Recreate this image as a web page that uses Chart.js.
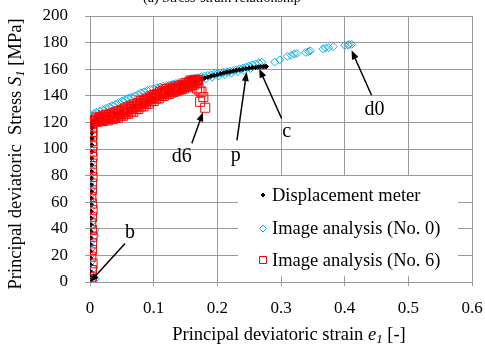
<!DOCTYPE html>
<html>
<head>
<meta charset="utf-8">
<script src="https://cdn.jsdelivr.net/npm/chart.js@4.4.1/dist/chart.umd.min.js"></script>
<style>
  html, body { margin: 0; padding: 0; background: #fff; }
  #wrap { width: 485px; height: 347px; }
</style>
</head>
<body>
<div id="wrap"><canvas id="grafico" width="485" height="347"></canvas></div>
<script>
// ---- data ----
const xTicks = [0, 0.1, 0.2, 0.3, 0.4, 0.5, 0.6];
const yTicks = [0, 20, 40, 60, 80, 100, 120, 140, 160, 180, 200];

const seriesNames = ['Displacement meter', 'Image analysis (No. 0)', 'Image analysis (No. 6)'];

// displacement meter
const dispStrain = [0, 0.0003, 0.0005, 0.0008, 0.001, 0.001, 0.0012, 0.0013, 0.0015, 0.0016, 0.0017, 0.0018, 0.002, 0.002,
  0.0021, 0.0022, 0.0023, 0.0024, 0.0025, 0.0026, 0.0027, 0.0028, 0.003, 0.0032, 0.0035, 0.004, 0.006,
  0.01, 0.02, 0.03, 0.04, 0.05, 0.06, 0.07, 0.08, 0.09, 0.10, 0.11, 0.12, 0.13, 0.14, 0.15, 0.16, 0.165, 0.17,
  0.175, 0.18, 0.185, 0.19, 0.195, 0.2, 0.205, 0.21, 0.215, 0.22, 0.225, 0.23, 0.235, 0.24, 0.245, 0.25,
  0.255, 0.26, 0.264, 0.268, 0.272, 0.275, 0.277];
const dispStress = [0, 4, 8, 13, 18, 23, 28, 33, 38, 43, 48, 53, 58, 63,
  68, 73, 78, 83, 88, 93, 98, 103, 108, 112, 116, 119, 121,
  122, 123.5, 125, 126.5, 128, 130, 132, 134, 136, 138, 140, 142, 144, 145.5, 147, 149, 150.5, 151.5,
  152.5, 153.3, 154, 154.8, 155.4, 156, 156.6, 157.2, 157.7, 158.2, 158.7, 159.2, 159.6, 160, 160.4, 160.8,
  161.1, 161.4, 161.6, 161.8, 161.9, 162, 162];

// image analysis No. 0
const img0Strain = [0.008, 0.003, 0.005, 0.002, 0.001, 0.002, 0.001, 0.008, 0.008, 0.005, 0.002, 0.001, 0.002, 0.001,
  0.002, 0.001, 0, 0.001, 0.002, 0, 0.001, -0.002, 0.002, 0, 0.003, 0.001, 0.002, 0.004,
  0.006, 0.01, 0.015, 0.02, 0.025, 0.03, 0.035, 0.04, 0.045, 0.05, 0.055, 0.06, 0.065, 0.07, 0.075, 0.08,
  0.085, 0.09, 0.095, 0.1, 0.105, 0.11, 0.115, 0.12, 0.125, 0.13, 0.135, 0.14, 0.145, 0.15, 0.155, 0.16,
  0.165, 0.17, 0.175, 0.18, 0.185, 0.19, 0.195, 0.2, 0.205, 0.21, 0.215, 0.22, 0.225, 0.23, 0.235, 0.24,
  0.245, 0.25, 0.255, 0.26, 0.265, 0.27,
  0.172, 0.182, 0.192, 0.202, 0.212, 0.222, 0.232, 0.242, 0.252,
  0.29, 0.298, 0.31, 0.316, 0.321, 0.325, 0.339, 0.343, 0.346, 0.366, 0.37, 0.375, 0.382, 0.4, 0.405, 0.407, 0.411];
const img0Stress = [2, 6, 10, 15, 20, 25, 30, 35, 39, 46, 50, 55, 60, 65,
  70, 75, 80, 85, 90, 95, 100, 106, 108, 112, 116, 120, 123, 125,
  126.5, 127.5, 128.5, 129.5, 130.5, 131.5, 132.5, 133.5, 134.8, 136, 137, 138.2, 139, 140, 141, 142.3,
  143, 144, 144.8, 145.5, 146, 146.6, 147.2, 147.8, 148.3, 148.8, 149.3, 150, 150.6, 151.2, 152, 152.7,
  153.2, 153.8, 154.3, 154.8, 155.3, 155.8, 156.2, 156.7, 157.1, 157.6, 158, 158.5, 159, 159.6, 160.2, 160.8,
  161.5, 162.3, 163.2, 164, 164.8, 165.3,
  151.5, 152.8, 154, 155, 156, 157, 158, 159, 160.5,
  165.4, 167, 169.7, 170.5, 171.5, 171.8, 172.6, 173.2, 173.8, 175.3, 176, 176.2, 177, 178, 178.3, 178.5, 178.7];

// image analysis No. 6
const img6Strain = [0.002, 0.003, 0.003, 0.004, 0.002, 0.003, 0.003, 0.004, 0.003, 0.002, 0.003, 0.004, 0.003, 0.002,
  0.003, 0.003, 0.004, 0.003, 0.003, 0.004, 0.003, 0.004, 0.003, 0.004, 0.003, 0.004, 0.004, 0.005,
  0.006, 0.01, 0.014, 0.018, 0.022, 0.026, 0.03, 0.034, 0.038, 0.042, 0.046, 0.05, 0.054, 0.058, 0.062, 0.066,
  0.07, 0.074, 0.078, 0.082, 0.086, 0.09, 0.094, 0.098, 0.102, 0.106, 0.11, 0.114, 0.118, 0.122, 0.126, 0.13,
  0.134, 0.138, 0.142, 0.146, 0.15, 0.154, 0.158, 0.162, 0.166, 0.17,
  0.012, 0.02, 0.028, 0.036, 0.044, 0.052, 0.06, 0.068, 0.076, 0.084, 0.092, 0.1, 0.108, 0.116, 0.124, 0.132,
  0.14, 0.148, 0.156, 0.164,
  0.015, 0.03, 0.045, 0.06, 0.075, 0.09, 0.105, 0.12, 0.135, 0.15, 0.158, 0.165, 0.17,
  0.008, 0.016, 0.024, 0.032, 0.04, 0.048, 0.056, 0.064, 0.072, 0.08, 0.088, 0.096, 0.104, 0.112, 0.12, 0.128,
  0.136, 0.144, 0.152, 0.16, 0.168,
  0.01, 0.02, 0.025, 0.035, 0.04, 0.05, 0.055, 0.065, 0.07, 0.08, 0.085, 0.095, 0.1, 0.11, 0.115, 0.125,
  0.13, 0.14, 0.145, 0.155, 0.16, 0.163,
  0.168, 0.172, 0.175, 0.178, 0.173, 0.181];
const img6Stress = [0, 4, 9, 14, 19, 24, 29, 34, 39, 44, 49, 54, 59, 64,
  69, 74, 79, 84, 89, 94, 98, 102, 106, 110, 113, 116, 119, 121,
  121.5, 122, 122.5, 122, 123, 123.5, 124, 124.5, 125, 126, 126.5, 127.5, 128, 129, 130, 130.5,
  131.5, 132.5, 133.5, 134.5, 135.5, 136.5, 137.5, 138.5, 139.5, 140.5, 141.5, 142, 143, 143.5, 144, 144.5,
  145, 145.5, 146, 146.5, 147.5, 148.5, 149.5, 150.5, 151, 151.5,
  120.5, 121, 121.5, 122.5, 123.5, 125, 126.5, 128, 130, 132, 134, 136, 138, 140, 141.5, 143,
  144.5, 145.5, 147, 148.5,
  124, 126, 128.5, 131.5, 134.5, 138, 141.5, 145, 147, 149.5, 151.5, 152, 152,
  120.8, 121.5, 122.2, 123, 124, 125.2, 126.5, 128.2, 130, 132, 134, 136, 138, 139.8, 141.2, 142.5,
  143.8, 145, 146.5, 148, 149.5,
  123.5, 125, 125.5, 126.8, 127.5, 129.5, 130.5, 132.5, 133.5, 136, 137, 139.5, 140.5, 143, 143.8, 145.5,
  146.2, 147.5, 148.2, 150, 150.8, 151.5,
  145.5, 144, 143, 139, 135.5, 131];

// call-outs: label point and arrow, in data units
const noteText = ['b', 'd6', 'p', 'c', 'd0'];
const noteStrain = [0.063, 0.144, 0.229, 0.309, 0.447];
const noteStress = [37, 94.5, 95.3, 113.3, 129.8];
const arrowFromStrain = [0.055, 0.160, 0.2308, 0.301, 0.4422];
const arrowFromStress = [29, 104.3, 106.5, 122.9, 140.4];
const arrowToStrain = [0, 0.1774, 0.246, 0.2658, 0.4108];
const arrowToStress = [0, 127.6, 157.9, 160.4, 174.2];

function pares(xs, ys) {
  return xs.map((x, i) => ({ x: x, y: ys[i] }));
}

const SERIF = '"Liberation Serif", "Times New Roman", serif';

function textoMisto(ctx, partes, x, y) {
  // draws pieces of text with different fonts, centred at x
  let total = 0;
  partes.forEach(p => { ctx.font = p.f; total += ctx.measureText(p.t).width; });
  let cx = x - total / 2;
  ctx.textAlign = 'left';
  ctx.textBaseline = 'alphabetic';
  partes.forEach(p => {
    ctx.font = p.f;
    ctx.fillText(p.t, cx, y + (p.dy || 0));
    cx += ctx.measureText(p.t).width;
  });
}

function seta(ctx, x1, y1, x2, y2) {
  const ang = Math.atan2(y2 - y1, x2 - x1);
  const len = 9, w = 3.5;
  ctx.beginPath();
  ctx.moveTo(x1, y1);
  ctx.lineTo(x2 - (len - 2) * Math.cos(ang), y2 - (len - 2) * Math.sin(ang));
  ctx.stroke();
  ctx.beginPath();
  ctx.moveTo(x2, y2);
  ctx.lineTo(x2 - len * Math.cos(ang) + w * Math.sin(ang), y2 - len * Math.sin(ang) - w * Math.cos(ang));
  ctx.lineTo(x2 - len * Math.cos(ang) - w * Math.sin(ang), y2 - len * Math.sin(ang) + w * Math.cos(ang));
  ctx.closePath();
  ctx.fill();
}

const extras = {
  id: 'extras',
  afterDatasetsDraw(chart) {
    const ctx = chart.ctx;
    const sx = chart.scales.x, sy = chart.scales.y;
    ctx.save();
    ctx.fillStyle = '#000';
    ctx.strokeStyle = '#000';
    ctx.lineWidth = 1.5;

    // call-outs
    noteText.forEach((t, i) => {
      seta(ctx, sx.getPixelForValue(arrowFromStrain[i]), sy.getPixelForValue(arrowFromStress[i]),
        sx.getPixelForValue(arrowToStrain[i]), sy.getPixelForValue(arrowToStress[i]));
      ctx.font = '20px ' + SERIF;
      ctx.textAlign = 'center';
      ctx.textBaseline = 'middle';
      ctx.fillText(t, sx.getPixelForValue(noteStrain[i]), sy.getPixelForValue(noteStress[i]));
    });

    // legend box
    ctx.fillStyle = '#fff';
    ctx.fillRect(238, 176, 220, 100);
    const linhas = [195, 228.5, 260];
    chart.data.datasets.forEach((ds, i) => {
      const mx = 263, my = linhas[i];
      ctx.strokeStyle = ds.borderColor;
      ctx.fillStyle = ds.backgroundColor;
      ctx.lineWidth = 1;
      ctx.beginPath();
      if (ds.pointStyle === 'rect') {
        ctx.rect(mx - 3.5, my - 3.5, 7, 7);
      } else {
        const r = i === 0 ? 2 : 3.5;
        ctx.moveTo(mx, my - r); ctx.lineTo(mx + r, my); ctx.lineTo(mx, my + r); ctx.lineTo(mx - r, my);
        ctx.closePath();
      }
      ctx.fill();
      ctx.stroke();
      ctx.fillStyle = '#000';
      ctx.font = '18.5px ' + SERIF;
      ctx.textAlign = 'left';
      ctx.textBaseline = 'middle';
      ctx.fillText(ds.label, 272, my + 1);
    });

    // axis titles
    ctx.fillStyle = '#000';
    textoMisto(ctx, [
      { t: 'Principal deviatoric strain ', f: '18.5px ' + SERIF },
      { t: 'e', f: 'italic 18.5px ' + SERIF },
      { t: '1', f: 'italic 13px ' + SERIF, dy: 3 },
      { t: ' [-]', f: '18.5px ' + SERIF }
    ], 289, 340);
    ctx.save();
    ctx.translate(21, 154);
    ctx.rotate(-Math.PI / 2);
    textoMisto(ctx, [
      { t: 'Principal deviatoric  Stress ', f: '18.5px ' + SERIF },
      { t: 'S', f: 'italic 18.5px ' + SERIF },
      { t: '1', f: 'italic 13px ' + SERIF, dy: 3 },
      { t: ' [MPa]', f: '18.5px ' + SERIF }
    ], 0, 0);
    ctx.restore();

    // clipped title at the very top
    ctx.font = '14px ' + SERIF;
    ctx.textAlign = 'left';
    ctx.textBaseline = 'alphabetic';
    ctx.fillText('(a) Stress-strain relationship', 143, 2);
    ctx.restore();
  }
};

const grafico = document.getElementById('grafico');
const graficoTensao = new Chart(grafico, {
  type: 'scatter',
  data: {
    datasets: [{
      label: seriesNames[0],
      data: pares(dispStrain, dispStress),
      pointStyle: 'rectRot',
      pointRadius: 2.2,
      borderWidth: 1,
      borderColor: '#000000',
      backgroundColor: '#000000',
      order: 1
    }, {
      label: seriesNames[1],
      data: pares(img0Strain, img0Stress),
      pointStyle: 'rectRot',
      pointRadius: 4,
      borderWidth: 1,
      borderColor: '#00B0F0',
      backgroundColor: 'rgba(0,0,0,0)',
      order: 2
    }, {
      label: seriesNames[2],
      data: pares(img6Strain, img6Stress),
      pointStyle: 'rect',
      pointRadius: 6.4,
      borderWidth: 1,
      borderColor: '#FF0000',
      backgroundColor: 'rgba(0,0,0,0)',
      order: 0
    }]
  },
  options: {
    responsive: false,
    animation: false,
    devicePixelRatio: 1,
    layout: { padding: { left: 30, right: 13, top: 16, bottom: 0 } },
    plugins: { legend: { display: false }, tooltip: { enabled: false } },
    scales: {
      x: {
        type: 'linear',
        min: xTicks[0],
        max: xTicks[xTicks.length - 1],
        afterBuildTicks: s => { s.ticks = xTicks.map(v => ({ value: v })); },
        afterFit: s => { s.height = 65; s.paddingLeft = 0; s.paddingRight = 0; },
        grid: { color: '#9a9a9a', lineWidth: 1, tickLength: 4 },
        border: { color: '#9a9a9a' },
        ticks: { color: '#000', padding: 12, font: { family: SERIF, size: 17 } }
      },
      y: {
        type: 'linear',
        min: yTicks[0],
        max: yTicks[yTicks.length - 1],
        afterBuildTicks: s => { s.ticks = yTicks.map(v => ({ value: v })); },
        afterFit: s => { s.width = 60; s.paddingTop = 0; s.paddingBottom = 0; },
        grid: { color: '#9a9a9a', lineWidth: 1, tickLength: 5 },
        border: { color: '#9a9a9a' },
        ticks: { color: '#000', padding: 17, font: { family: SERIF, size: 17 } }
      }
    }
  },
  plugins: [extras]
});
</script>
</body>
</html>
